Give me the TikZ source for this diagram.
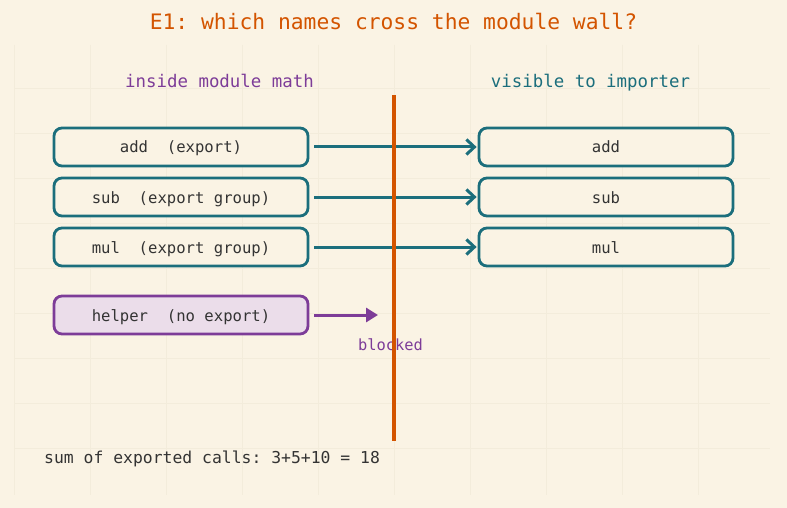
\documentclass[tikz,border=0pt]{standalone}
\usepackage{fontspec}
\setmonofont{DejaVu Sans Mono}
\usetikzlibrary{arrows.meta}
\definecolor{bg}{HTML}{FAF3E4}
\definecolor{gridc}{HTML}{F3ECDB}
\definecolor{orng}{HTML}{D35400}
\definecolor{purp}{HTML}{7D3C98}
\definecolor{teal}{HTML}{1B6E7C}
\definecolor{ink}{HTML}{333333}
\definecolor{lilac}{HTML}{EBDDEA}
\tikzset{
  box/.style={draw=teal, line width=2.8pt, rounded corners=8pt, minimum width=254pt, minimum height=38pt, inner sep=0pt, fill=bg, font=\ttfamily\fontsize{15.6pt}{18pt}\selectfont, text=ink, text height=12pt, text depth=0pt},
  hbox/.style={box, draw=purp, fill=lilac},
  exparrow/.style={draw=teal, line width=3pt, -{Straight Barb[length=8pt,width=15pt,line width=3pt]}},
  blkarrow/.style={draw=purp, line width=3pt, -{Triangle[length=12pt,width=14pt]}},
  lbl/.style={font=\ttfamily\fontsize{17.4pt}{20pt}\selectfont, inner sep=0pt, anchor=base},
}
\begin{document}
\begin{tikzpicture}[x=1pt,y=-1pt]
\fill[bg] (0,0) rectangle (787,508);
\useasboundingbox (0,0) rectangle (787,508);
% faint grid
\foreach \gx in {14,90,166,242,318,394,470,546,622,698}
  \draw[gridc, line width=0.6pt] (\gx,45) -- (\gx,495);
\foreach \gy in {88,133,178,223,268,313,358,403,448}
  \draw[gridc, line width=0.6pt] (14,\gy) -- (770,\gy);
% title
\node[font=\ttfamily\fontsize{21.3pt}{24pt}\selectfont, text=orng, inner sep=0pt, anchor=base] (title) at (393.5,30) {E1: which names cross the module wall?};
\node[lbl, text=purp] (inside) at (219.5,88) {inside module math};
\node[lbl, text=teal] (visible) at (590.5,88) {visible to importer};
% left boxes
\node[box] (add) at (181,147) {add\ \ (export)};
\node[box] (sub) at (181,197) {sub\ \ (export group)};
\node[box] (mul) at (181,247) {mul\ \ (export group)};
\node[hbox] (helper) at (181,315) {helper\ \ (no export)};
% right boxes
\node[box] (radd) at (606,147) {add};
\node[box] (rsub) at (606,197) {sub};
\node[box] (rmul) at (606,247) {mul};
% arrows
\draw[exparrow] ([xshift=5pt]add.east) -- ([xshift=-1pt]radd.west);
\draw[exparrow] ([xshift=5pt]sub.east) -- ([xshift=-1pt]rsub.west);
\draw[exparrow] ([xshift=5pt]mul.east) -- ([xshift=-1pt]rmul.west);
\coordinate (stop) at (378,315);
\draw[blkarrow] ([xshift=5pt]helper.east) -- (stop);
\node[font=\ttfamily\fontsize{15.4pt}{18pt}\selectfont, text=purp, inner sep=0pt, anchor=base] (blocked) at (390.5,350) {blocked};
\node[font=\ttfamily\fontsize{16.4pt}{19pt}\selectfont, text=ink, inner sep=0pt, anchor=base west] (sum) at (44,463) {sum of exported calls: 3+5+10 = 18};
% wall (on top)
\coordinate (walltop) at (394,95);
\coordinate (wallbot) at (394,441);
\draw[orng, line width=4pt] (walltop) -- (wallbot);
\end{tikzpicture}
\end{document}
